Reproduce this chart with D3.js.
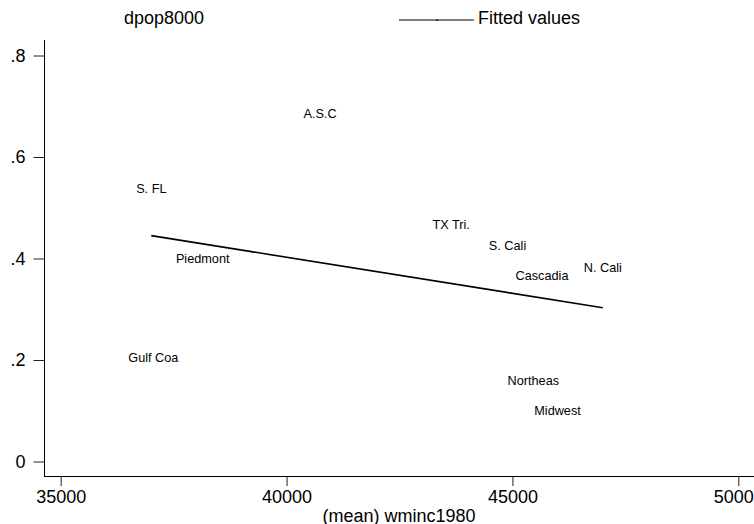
<!DOCTYPE html>
<html>
<head>
<meta charset="utf-8">
<script src="https://cdn.jsdelivr.net/npm/d3@7"></script>
<style>
  html, body { margin: 0; padding: 0; background: #fff; }
  svg { display: block; }
  text { font-family: "Liberation Sans", Arial, Helvetica, sans-serif; fill: #000; }
</style>
</head>
<body>
<script>
// Region labels with mean white income 1980 (x) and population growth 1980-2000 (y)
const regions   = ["Gulf Coa", "S. FL", "A.S.C", "Piedmont", "TX Tri.", "S. Cali", "Cascadia", "N. Cali", "Northeas", "Midwest"];
const wminc1980 = [37050, 37006, 40741, 38144, 43645, 44892, 45655, 47001, 45463, 45998];
const dpop8000  = [0.206, 0.538, 0.686, 0.401, 0.468, 0.426, 0.367, 0.383, 0.160, 0.100];

// Fitted (linear) values at the ends of the x range
const fitX = [37006, 47001];
const fitY = [0.445, 0.303];

const xTicks = [35000, 40000, 45000, 50000];
const yTicks = [0, 0.2, 0.4, 0.6, 0.8];

const W = 754, H = 524;
const svg = d3.select("body").append("svg").attr("width", W).attr("height", H);

const x = d3.scaleLinear().domain([35000, 50000]).range([60.7, 738.3]);
const y = d3.scaleLinear().domain([0, 0.8]).range([461.5, 55.5]);

const axisX = 44, axisY = 476, plotTop = 40;

// Y axis
const yAxis = svg.append("g")
  .attr("transform", `translate(${axisX},0)`)
  .call(d3.axisLeft(y).tickValues(yTicks).tickSize(10.5).tickPadding(8)
    .tickFormat(d => d === 0 ? "0" : d3.format(".1f")(d).replace(/^0/, "")));
yAxis.select(".domain").remove();
yAxis.selectAll(".tick line").attr("stroke", "#222");
yAxis.selectAll(".tick text").attr("font-size", 18).attr("font-family", null);
yAxis.attr("font-family", null);

svg.append("line")
  .attr("x1", axisX + 0.5).attr("x2", axisX + 0.5)
  .attr("y1", plotTop).attr("y2", axisY + 0.5)
  .attr("stroke", "#000");

// X axis
const xAxis = svg.append("g")
  .attr("transform", `translate(0,${axisY})`)
  .call(d3.axisBottom(x).tickValues(xTicks).tickSize(10).tickPadding(4)
    .tickFormat(d3.format("d")));
xAxis.select(".domain").remove();
xAxis.selectAll(".tick line").attr("stroke", "#222");
xAxis.selectAll(".tick text").attr("font-size", 18).attr("font-family", null);
xAxis.attr("font-family", null);

svg.append("line")
  .attr("x1", axisX).attr("x2", W)
  .attr("y1", axisY + 0.5).attr("y2", axisY + 0.5)
  .attr("stroke", "#000");

// X axis title
svg.append("text")
  .attr("x", (axisX + W) / 2).attr("y", 521.5)
  .attr("text-anchor", "middle").attr("font-size", 18)
  .text("(mean) wminc1980");

// Fitted line
const fit = fitX.map((v, i) => [x(v), y(fitY[i])]);
svg.append("path")
  .attr("d", d3.line()(fit))
  .attr("fill", "none").attr("stroke", "#000").attr("stroke-width", 1.6);

// Region labels centred on their points
svg.append("g").selectAll("text")
  .data(regions)
  .join("text")
  .attr("x", (d, i) => x(wminc1980[i]))
  .attr("y", (d, i) => y(dpop8000[i]))
  .attr("dy", "0.36em")
  .attr("text-anchor", "middle")
  .attr("font-size", 12.7)
  .text(d => d);

// Legend
const legend = svg.append("g");
legend.append("text").attr("x", 124).attr("y", 24).attr("font-size", 18).text("dpop8000");
legend.append("line")
  .attr("x1", 399).attr("x2", 474).attr("y1", 20).attr("y2", 20)
  .attr("stroke", "#000").attr("stroke-width", 1);
legend.append("rect").attr("x", 436.5).attr("y", 19.5).attr("width", 1.5).attr("height", 1.5).attr("fill", "#000");
legend.append("text").attr("x", 478).attr("y", 24).attr("font-size", 18).text("Fitted values");
</script>
</body>
</html>
